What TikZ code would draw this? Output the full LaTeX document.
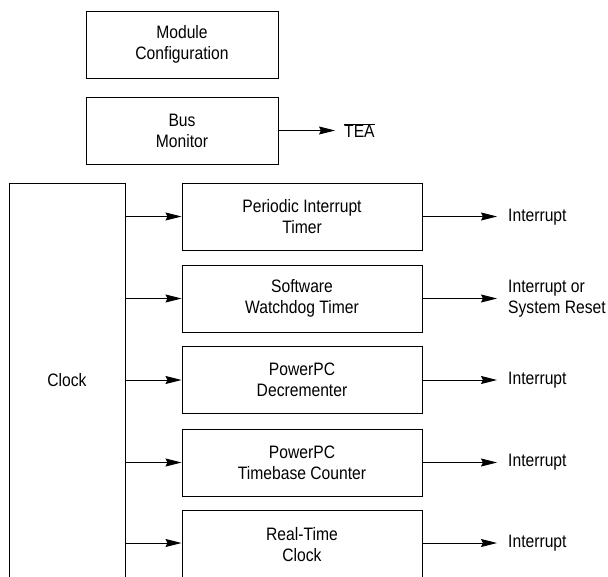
\documentclass[tikz,border=0pt]{standalone}
\usepackage{fontspec}
\setmainfont{Liberation Sans}[FakeStretch=0.87]
\usetikzlibrary{arrows.meta}
\tikzset{
  txt/.style={align=center, inner sep=0pt, font=\fontsize{18}{21}\selectfont},
  box/.style={txt, draw, line width=1pt},
  topbox/.style={box, minimum width=192pt, minimum height=67pt},
  tbox/.style={box, minimum width=240pt, minimum height=67pt},
  lbl/.style={anchor=west, align=left, inner sep=0pt, font=\fontsize{18}{21}\selectfont},
  arr/.style={line width=0.9pt, -{Stealth[length=16pt,width=8pt,inset=2pt]}}
}
\begin{document}
\begin{tikzpicture}[x=1pt,y=-1pt]
\useasboundingbox (0,0) rectangle (608,576);
\node[topbox] (mod) at (182,44.5) {Module\\Configuration};
\node[topbox] (bus) at (182,130.5) {Bus\\Monitor};
\node[box, minimum width=116pt, minimum height=397pt] (clk) at (67,381.5) {};
\node[txt] (clktxt) at (67,380) {Clock};
\node[tbox] (pit) at (302,216.5) {Periodic Interrupt\\Timer};
\node[tbox] (swt) at (302,298.5) {Software\\Watchdog Timer};
\node[tbox] (dec) at (302,380) {PowerPC\\Decrementer};
\node[tbox] (tbc) at (302,462.5) {PowerPC\\Timebase Counter};
\node[box, minimum width=240pt, minimum height=70pt] (rtc) at (302,545) {Real-Time\\Clock};
\coordinate (rtcin) at (302,543);
% labels
\node[lbl] (tea) at (344,130.5) {$\overline{\mbox{TEA}}$};
\node[lbl] (o1) at (508,217) {Interrupt};
\node[lbl] (o2) at (508,299) {Interrupt or\\System Reset};
\node[lbl] (o3) at (508,380.5) {Interrupt};
\node[lbl] (o4) at (508,462.5) {Interrupt};
\node[lbl] (o5) at (508,543.5) {Interrupt};
% arrows
\draw[arr] (bus.east) -- ([xshift=-9pt]bus.east -| tea.west);
\foreach \n in {pit,swt,dec,tbc} {
  \draw[arr] (clk.east |- \n.west) -- (\n.west);
}
\draw[arr] (clk.east |- rtcin) -- (rtc.west |- rtcin);
\draw[arr] (pit.east) -- ([xshift=-11pt]pit.east -| o1.west);
\draw[arr] (swt.east) -- ([xshift=-11pt]swt.east -| o2.west);
\draw[arr] (dec.east) -- ([xshift=-11pt]dec.east -| o3.west);
\draw[arr] (tbc.east) -- ([xshift=-11pt]tbc.east -| o4.west);
\draw[arr] (rtc.east |- rtcin) -- ([xshift=-11pt]rtcin -| o5.west);
\end{tikzpicture}
\end{document}
